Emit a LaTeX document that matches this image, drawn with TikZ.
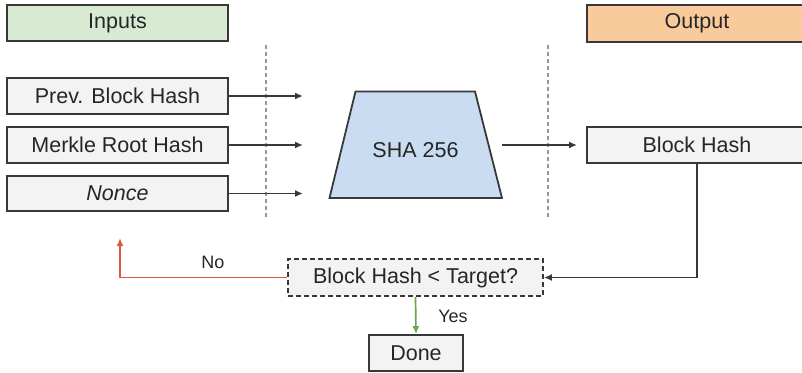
\documentclass[tikz,border=0pt]{standalone}
\usepackage{fontspec}
\setmainfont{Liberation Sans}
\usetikzlibrary{arrows.meta}
\definecolor{bordc}{HTML}{383838}
\definecolor{boxfill}{HTML}{F3F3F3}
\definecolor{ingreen}{HTML}{D9EAD3}
\definecolor{outorange}{HTML}{F9CB9C}
\definecolor{shablue}{HTML}{C9DCF1}
\definecolor{txtc}{HTML}{262626}
\definecolor{noRed}{HTML}{DB5A42}
\definecolor{yesGreen}{HTML}{6AA84F}
\definecolor{sepgray}{HTML}{9C9694}
\tikzset{
  box/.style={draw=bordc, fill=boxfill, line width=1.8pt, inner sep=0pt,
    text=txtc, font=\fontsize{21.5}{25}\selectfont},
  hdrbox/.style={box},
  conn/.style={draw=bordc, line width=1.7pt, -{Latex[length=8pt,width=7pt]}},
  sepline/.style={draw=sepgray, line width=1.5pt, dash pattern=on 4pt off 3pt},
  lbl/.style={text=txtc, font=\fontsize{18}{21}\selectfont, inner sep=0pt}
}
\begin{document}
\begin{tikzpicture}[x=1pt,y=-1pt]
\useasboundingbox (0,0) rectangle (802,372);
\clip (0,0) rectangle (802,372);
% headers
\node[hdrbox, fill=ingreen, minimum width=221pt, minimum height=36pt] (inputs) at (117.5,23) {Inputs};
\node[hdrbox, fill=outorange, minimum width=220pt, minimum height=37pt] (output) at (697,23.5) {Output};
% inputs
\node[box, minimum width=221pt, minimum height=36pt] (prev) at (117.5,96) {Prev. Block Hash};
\node[box, minimum width=221pt, minimum height=36pt] (merkle) at (117.5,145) {Merkle Root Hash};
\node[box, minimum width=221pt, minimum height=35pt] (nonce) at (117.5,193.5) {\itshape Nonce};
% separators
\coordinate (s1a) at (266,45); \coordinate (s1b) at (266,218);
\coordinate (s2a) at (548,45); \coordinate (s2b) at (548,218);
\draw[sepline] (s1a) -- (s1b);
\draw[sepline] (s2a) -- (s2b);
% SHA trapezoid
\draw[draw=bordc, fill=shablue, line width=1.8pt] (355.5,91.5) -- (475,91.5) -- (502,198) -- (329.5,198) -- cycle;
\node[text=txtc, font=\fontsize{21.5}{25}\selectfont, inner sep=0pt] (sha) at (415.5,150) {SHA 256};
% output
\node[box, minimum width=220pt, minimum height=36pt] (blockhash) at (697,145) {Block Hash};
% decision
\node[box, dashed, dash pattern=on 5pt off 3pt, minimum width=255pt, minimum height=37pt] (decide) at (415.5,277.5) {Block Hash < Target?};
\node[box, minimum width=94pt, minimum height=36pt] (done) at (416,353) {Done};
% coordinates
\coordinate (t1) at (303,96);
\coordinate (t2) at (303,145);
\coordinate (t3) at (303,193.5);
\coordinate (shaout) at (502,145);
\coordinate (bhin) at (577,145);
\coordinate (corner) at (697,277.5);
\coordinate (noend) at (120,238);
\coordinate (nocorner) at (120,277.5);
% connectors
\draw[conn] (prev.east) -- (t1);
\draw[conn] (merkle.east) -- (t2);
\draw[conn] (nonce.east) -- (t3);
\draw[conn] (shaout) -- (bhin);
\draw[conn] (blockhash.south) -- (corner) -- (decide.east);
\draw[conn, draw=noRed] (decide.west) -- (nocorner) -- (noend);
\draw[conn, draw=yesGreen] (decide.south) -- (done.north);
% labels
\node[lbl] (nolbl) at (213,262) {No};
\node[lbl] (yeslbl) at (453,316) {Yes};
\end{tikzpicture}
\end{document}
